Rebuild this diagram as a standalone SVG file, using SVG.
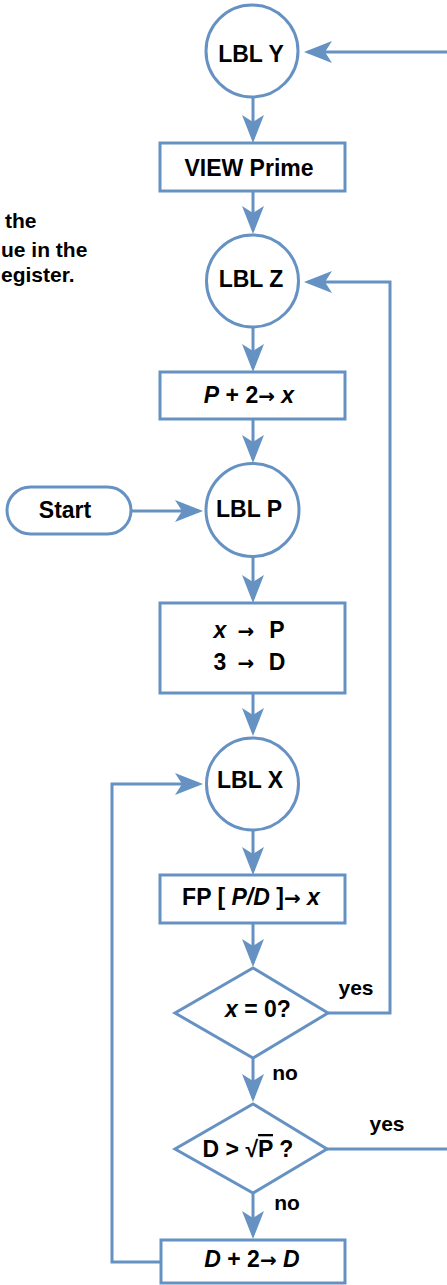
<svg xmlns="http://www.w3.org/2000/svg" width="447" height="1285" viewBox="0 0 447 1285">
<style>
.s{fill:#ffffff;stroke:#6592c3;stroke-width:3}
.c{fill:none;stroke:#6592c3;stroke-width:3}
.t{font-family:"Liberation Sans",Arial,sans-serif;font-weight:bold;font-size:23px;fill:#000;text-anchor:middle}
.l{font-family:"Liberation Sans",Arial,sans-serif;font-weight:bold;font-size:21px;fill:#000;text-anchor:middle}
.n{font-family:"Liberation Sans",Arial,sans-serif;font-weight:bold;font-size:21px;fill:#000;text-anchor:start}
.i{font-style:italic}
.a{font-family:"DejaVu Sans",sans-serif;font-weight:bold;font-size:20px;font-style:normal}
</style>
<defs>
<marker id="ah" viewBox="-30 -12 32 24" refX="-4" refY="0" markerWidth="32" markerHeight="24" markerUnits="userSpaceOnUse" orient="auto">
<path d="M0,0 L-28,-11 L-21,0 L-28,11 Z" fill="#6592c3"/>
</marker>
</defs>
<g id="note">
<text class="n" x="5" y="228">the</text>
<text class="n" x="1" y="257">ue in the</text>
<text class="n" x="1" y="282">egister.</text>
</g>
<g id="connectors">
<path class="c" d="M447,52 H308" marker-end="url(#ah)"/>
<path class="c" d="M253,97 V139" marker-end="url(#ah)"/>
<path class="c" d="M253,191 V230" marker-end="url(#ah)"/>
<path class="c" d="M253,327 V368" marker-end="url(#ah)"/>
<path class="c" d="M253,419 V459" marker-end="url(#ah)"/>
<path class="c" d="M131,511 H199" marker-end="url(#ah)"/>
<path class="c" d="M253,557 V599" marker-end="url(#ah)"/>
<path class="c" d="M253,693 V732" marker-end="url(#ah)"/>
<path class="c" d="M253,830 V871" marker-end="url(#ah)"/>
<path class="c" d="M253,923 V963" marker-end="url(#ah)"/>
<path class="c" d="M253,1058 V1098" marker-end="url(#ah)"/>
<path class="c" d="M253,1193 V1235" marker-end="url(#ah)"/>
<path class="c" d="M328,1013 H390 V282 H308" marker-end="url(#ah)"/>
<path class="c" d="M327,1149 H447"/>
<path class="c" d="M161,1262 H112 V784 H199" marker-end="url(#ah)"/>
</g>
<g id="lblY">
<circle class="s" cx="252" cy="51" r="46"/>
<text class="t" x="251" y="62">LBL Y</text>
</g>
<g id="viewPrime">
<rect class="s" x="160" y="143" width="185" height="48"/>
<text class="t" x="249" y="176">VIEW Prime</text>
</g>
<g id="lblZ">
<circle class="s" cx="252.5" cy="281" r="46"/>
<text class="t" x="251" y="287">LBL Z</text>
</g>
<g id="p2x">
<rect class="s" x="160" y="372" width="185" height="47"/>
<text class="t" x="249" y="403"><tspan class="i">P</tspan> + 2<tspan class="a">→</tspan> <tspan class="i">x</tspan></text>
</g>
<g id="start">
<rect class="s" x="7" y="487" width="124" height="47" rx="23.5"/>
<text class="t" x="65" y="518">Start</text>
</g>
<g id="lblP">
<circle class="s" cx="252.5" cy="510" r="46.5"/>
<text class="t" x="249" y="517">LBL P</text>
</g>
<g id="assign">
<rect class="s" x="160" y="603" width="185" height="90"/>
<text class="t" y="638"><tspan class="i" x="220">x</tspan><tspan class="a" x="246">→</tspan><tspan x="277">P</tspan></text>
<text class="t" y="670"><tspan x="220">3</tspan><tspan class="a" x="246">→</tspan><tspan x="277">D</tspan></text>
</g>
<g id="lblX">
<circle class="s" cx="252.5" cy="784" r="46"/>
<text class="t" x="250" y="788">LBL X</text>
</g>
<g id="fp">
<rect class="s" x="160" y="875" width="185" height="48"/>
<text class="t" x="251" y="905">FP [ <tspan class="i">P/D</tspan> ]<tspan class="a">→</tspan> <tspan class="i">x</tspan></text>
</g>
<g id="dec1">
<path class="s" d="M253,968 L328,1013 L253,1058 L175,1013 Z"/>
<text class="t" x="258" y="1017"><tspan class="i">x</tspan> = 0?</text>
<text class="l" x="356" y="995">yes</text>
<text class="l" x="285" y="1080">no</text>
</g>
<g id="dec2">
<path class="s" d="M253,1104 L327,1149 L253,1193 L175,1149 Z"/>
<text class="t" x="248" y="1157">D &gt; √<tspan text-decoration="overline">P</tspan> ?</text>
<text class="l" x="387" y="1131">yes</text>
<text class="l" x="287" y="1210">no</text>
</g>
<g id="d2d">
<rect class="s" x="161" y="1240" width="184" height="43"/>
<text class="t" x="252" y="1267"><tspan class="i">D</tspan> + 2<tspan class="a">→</tspan> <tspan class="i">D</tspan></text>
</g>
</svg>
